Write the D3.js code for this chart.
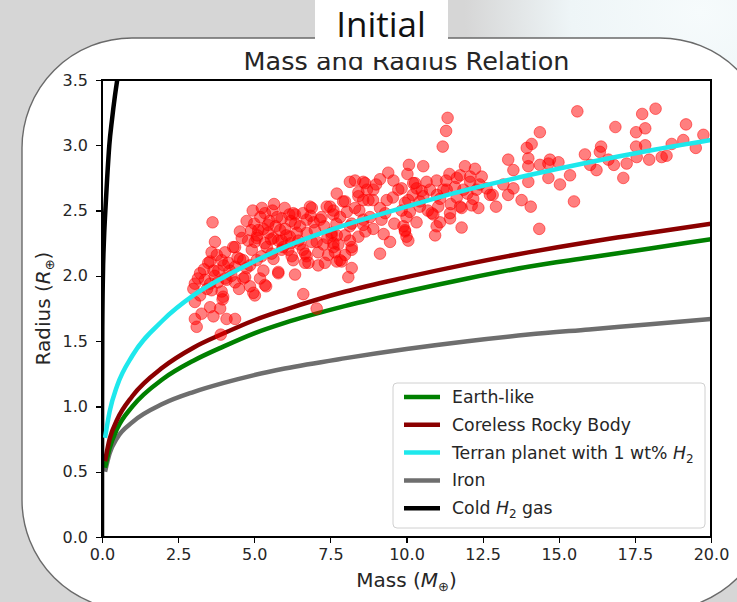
<!DOCTYPE html>
<meta charset="utf-8">
<style>
body {
  margin: 0;
  font-family: "DejaVu Sans", sans-serif;
}
.axis text {
  font: 16px "DejaVu Sans", sans-serif;
  fill: #262626;
}
.axis path,
.axis line {
  fill: none;
  stroke: #000;
  stroke-width: 1.2px;
  shape-rendering: crispEdges;
}
.dot {
  fill: rgba(255, 0, 0, 0.5);
  stroke: rgba(255, 0, 0, 0.5);
  stroke-width: 1px;
}
.curve {
  fill: none;
  stroke-width: 4.5px;
}
</style>
<svg width="737" height="602"></svg>
<script src="https://cdn.jsdelivr.net/npm/d3@7"></script>
<script>

// curve samples (mass in M_earth, radius in R_earth)
var curveMass = [0.1, 0.25, 0.5, 1, 2, 3, 4, 5, 6, 8, 10, 12, 14, 16, 18, 20];
var earthR    = [0.53, 0.68, 0.83, 1.00, 1.21, 1.35, 1.46, 1.56, 1.64, 1.77, 1.88, 1.98, 2.07, 2.14, 2.21, 2.28];
var corelessR = [0.58, 0.75, 0.90, 1.08, 1.30, 1.45, 1.56, 1.66, 1.74, 1.88, 1.99, 2.09, 2.18, 2.26, 2.33, 2.40];
var terranR   = [0.76, 0.96, 1.16, 1.39, 1.66, 1.85, 1.99, 2.11, 2.22, 2.39, 2.53, 2.66, 2.77, 2.87, 2.96, 3.04];
var ironR     = [0.50, 0.64, 0.76, 0.88, 1.02, 1.11, 1.18, 1.24, 1.29, 1.37, 1.44, 1.50, 1.55, 1.59, 1.63, 1.67];
var gasMass   = [0, 0.002, 0.01, 0.03, 0.06, 0.11, 0.17, 0.24, 0.33, 0.42, 0.5, 0.55];
var gasR      = [0, 1.0, 1.6, 2.0, 2.25, 2.5, 2.75, 3.0, 3.2, 3.37, 3.5, 3.58];

var seriesNames = ["Earth-like", "Coreless Rocky Body", "Terran planet with 1 wt% H2", "Iron", "Cold H2 gas"];
var seriesColors = ["#008000", "#8b0000", "#1ee8ec", "#6e6e6e", "#000000"];

// observed planets
var planetMass = [
  15.61, 18.18, 17.74, 19.18, 16.86, 17.84, 17.54, 14.38, 19.75, 14.11, 13.95, 16.39, 17.54, 17.84, 18.71, 19.09, 19.50,
  13.34, 14.0, 14.71, 14.99, 15.86, 16.35, 16.63, 17.23, 17.56, 17.97, 18.38, 18.54, 13.51, 14.0, 14.38, 14.66, 16.03,
  16.24, 16.81, 15.37, 14.66, 14.0, 15.04, 17.12, 13.18, 13.51, 13.34, 12.83, 12.94, 13.78, 14.08, 15.5, 14.36,
  11.35, 11.3,
  11.19, 10.08, 10.55, 11.92, 12.25, 9.40, 10.03, 11.41, 11.76, 12.47, 8.14, 8.58, 9.13, 9.57, 10.22, 10.99, 10.66, 12.09,
  7.71, 8.42, 8.91, 9.73, 10.33, 10.77, 11.32, 11.87, 12.63, 7.92, 8.58, 9.35, 10.06, 10.55, 11.10, 11.65, 12.19,
  12.36, 11.81, 11.04, 10.44, 9.84, 9.13, 8.31, 7.60, 7.82, 8.58, 9.18, 10.0, 10.83, 11.43, 11.43, 8.14, 8.91, 9.9,
  10.33, 11.81, 9.95, 7.71, 8.14, 9.46, 10.06, 10.94, 7.6, 8.2, 9.13, 7.87, 8.2, 8.09,
  10.28, 11.65, 12.09, 9.84, 11.21, 11.59, 12.3, 12.74, 9.95, 10.44, 11.76, 12.14, 10.11, 10.88, 11.1, 10.99, 9.95, 10.0,
  5.35, 6.89, 6.34, 5.9, 7.38, 3.63, 4.53, 5.30, 5.85, 6.5, 7.16, 3.71, 4.59, 5.08, 5.63, 6.17, 6.72, 7.54, 4.04, 4.31,
  4.92, 5.41, 5.95, 6.5, 7.05, 7.6, 3.55, 3.93, 4.53, 5.08, 5.63, 6.23, 6.72, 7.43, 7.71, 3.22, 3.66, 4.2, 4.75, 5.30,
  5.79, 6.34, 6.67, 7.1, 3.05, 3.55, 4.09, 4.64, 5.19, 4.86, 5.39, 3.0, 3.22, 3.93, 5.02, 6.61, 3.05, 3.55, 3.96, 3.27,
  3.88, 3.66, 3.05, 4.09, 4.37, 3.11, 7.05, 3.9,
  5.13, 5.46, 5.02, 5.35, 5.79, 4.37, 3.77, 3.49, 3.38, 3.82, 4.15, 4.37, 4.64, 4.86, 5.24, 5.57, 5.9, 5.79, 5.35, 4.97,
  3.98, 4.04, 4.37, 4.7, 3.6,
  8.31, 8.64, 7.98, 8.42, 8.75, 6.83, 6.28, 7.49, 7.21, 7.6, 8.04, 6.72, 6.34, 6.01, 8.2, 8.58, 6.99, 7.54, 7.98, 8.42,
  5.9, 6.45, 6.89, 7.27, 7.76, 8.2, 6.12, 6.67, 7.98, 6.28, 7.82, 6.78, 7.32,
  5.0, 5.2, 5.5, 5.7, 5.1, 5.6, 4.8, 6.0, 6.2, 6.6,
  4.9, 5.25, 5.45, 5.75, 6.05, 5.55, 6.15, 4.75, 4.95, 5.65,
  3.35, 3.7, 4.0, 4.25, 4.45, 3.45, 3.8, 4.5, 3.15, 3.6,
  6.4, 6.95, 7.3, 7.7, 6.6, 7.1, 7.65, 6.2, 7.4, 6.85,
  8.45, 8.8, 9.3, 9.55, 8.9, 9.0, 8.7, 9.6, 9.25, 8.65,
  10.5, 11.0, 11.45, 12.0, 10.7, 11.3, 12.4, 10.2
];
var planetRadius = [
  3.26, 3.28, 3.24, 3.16, 3.14, 3.13, 3.10, 3.10, 3.08, 3.01, 2.98, 2.99, 2.99, 3.00, 3.01, 3.04, 2.98,
  2.89, 2.90, 2.89, 2.87, 2.93, 2.95, 2.89, 2.86, 2.91, 2.89, 2.91, 2.92, 2.81, 2.84, 2.85, 2.86, 2.85,
  2.81, 2.85, 2.77, 2.75, 2.72, 2.70, 2.75, 2.70, 2.67, 2.62, 2.62, 2.53, 2.58, 2.53, 2.57, 2.36,
  3.21, 3.11,
  2.99, 2.85, 2.84, 2.84, 2.82, 2.79, 2.78, 2.78, 2.77, 2.76, 2.72, 2.72, 2.74, 2.73, 2.71, 2.73, 2.72, 2.72,
  2.63, 2.64, 2.66, 2.66, 2.67, 2.66, 2.66, 2.66, 2.67, 2.57, 2.58, 2.58, 2.58, 2.61, 2.59, 2.60, 2.59,
  2.52, 2.52, 2.53, 2.53, 2.50, 2.52, 2.52, 2.50, 2.45, 2.43, 2.43, 2.45, 2.48, 2.44, 2.48, 2.38, 2.36, 2.38,
  2.41, 2.37, 2.34, 2.31, 2.27, 2.26, 2.27, 2.31, 2.22, 2.20, 2.17, 2.11, 2.06, 1.99,
  2.71, 2.75, 2.76, 2.67, 2.66, 2.68, 2.66, 2.62, 2.56, 2.57, 2.53, 2.54, 2.49, 2.47, 2.41, 2.38, 2.35, 2.30,
  2.48, 2.52, 2.47, 2.44, 2.53, 2.41, 2.34, 2.36, 2.35, 2.38, 2.43, 2.26, 2.29, 2.29, 2.29, 2.30, 2.33, 2.31, 2.18, 2.22,
  2.20, 2.22, 2.22, 2.24, 2.26, 2.25, 2.11, 2.12, 2.13, 2.12, 2.13, 2.15, 2.15, 2.16, 2.11, 2.02, 2.04, 2.04, 2.06, 2.04,
  2.02, 2.01, 2.10, 2.08, 1.94, 1.94, 1.97, 1.98, 1.98, 1.92, 1.92, 1.90, 1.85, 1.88, 1.85, 1.86, 1.80, 1.76, 1.82, 1.71,
  1.75, 1.69, 1.67, 1.67, 1.67, 1.61, 1.75, 1.55,
  2.35, 2.33, 2.26, 2.25, 2.27, 2.22, 2.16, 2.10, 1.97, 2.04, 2.10, 2.07, 2.12, 2.08, 2.15, 2.17, 2.20, 2.03, 1.93, 1.87,
  1.84, 1.98, 1.95, 1.99, 1.89,
  2.73, 2.71, 2.57, 2.61, 2.58, 2.53, 2.48, 2.53, 2.45, 2.47, 2.49, 2.43, 2.40, 2.36, 2.40, 2.39, 2.35, 2.33, 2.31, 2.30,
  2.27, 2.27, 2.26, 2.24, 2.24, 2.22, 2.20, 2.17, 2.16, 2.12, 2.12, 2.10, 2.10,
  2.40, 2.45, 2.42, 2.38, 2.31, 2.50, 2.27, 2.52, 2.42, 2.48,
  2.35, 2.52, 2.39, 2.45, 2.31, 2.28, 2.47, 2.42, 2.50, 2.55,
  2.05, 2.00, 2.08, 2.00, 2.14, 1.90, 1.95, 1.90, 1.98, 2.18,
  2.33, 2.41, 2.38, 2.40, 2.20, 2.18, 2.18, 2.25, 2.29, 2.46,
  2.50, 2.45, 2.48, 2.60, 2.58, 2.70, 2.66, 2.40, 2.32, 2.34,
  2.65, 2.62, 2.55, 2.63, 2.50, 2.73, 2.70, 2.62
];

var xTicks = [0, 2.5, 5, 7.5, 10, 12.5, 15, 17.5, 20];
var yTicks = [0, 0.5, 1, 1.5, 2, 2.5, 3, 3.5];

var svg = d3.select("svg"),
    margin = {top: 80, right: 26, bottom: 65, left: 102},
    width = +svg.attr("width") - margin.left - margin.right,
    height = +svg.attr("height") - margin.top - margin.bottom;

// slide background
var defs = svg.append("defs");
var glow = defs.append("radialGradient").attr("id", "glow")
    .attr("cx", "0.95").attr("cy", "0.02").attr("r", "0.32");
glow.append("stop").attr("offset", "0").attr("stop-color", "#f6fbfc");
glow.append("stop").attr("offset", "0.55").attr("stop-color", "#eef5f7");
glow.append("stop").attr("offset", "1").attr("stop-color", "#d6d6d6");
defs.append("clipPath").attr("id", "plotclip")
  .append("rect").attr("width", width).attr("height", height);

svg.append("rect").attr("width", 737).attr("height", 602).attr("fill", "#d6d6d6");
svg.append("rect").attr("width", 737).attr("height", 602).attr("fill", "url(#glow)");

svg.append("rect")
    .attr("x", 22).attr("y", 38)
    .attr("width", 748).attr("height", 572)
    .attr("rx", 110).attr("ry", 110)
    .attr("fill", "#fff")
    .attr("stroke", "#6a6a6a")
    .attr("stroke-width", 1.4);

var x = d3.scaleLinear().domain([0, 20]).range([0, width]),
    y = d3.scaleLinear().domain([0, 3.5]).range([height, 0]);

// title
svg.append("text")
    .attr("x", margin.left + width / 2)
    .attr("y", 70)
    .attr("text-anchor", "middle")
    .style("font-size", "25.5px")
    .style("fill", "#262626")
    .text("Mass and Radius Relation");

// "Initial" tab over the top
svg.append("rect").attr("x", 315).attr("y", 0).attr("width", 133).attr("height", 57).attr("fill", "#fff");
svg.append("text")
    .attr("x", 381).attr("y", 37)
    .attr("text-anchor", "middle")
    .style("font-family", "'Open Sans', sans-serif")
    .style("font-size", "35px")
    .style("fill", "#111")
    .text("Initial");

var g = svg.append("g")
    .attr("transform", "translate(" + margin.left + "," + margin.top + ")");

var plot = g.append("g").attr("clip-path", "url(#plotclip)");

var line = d3.line()
    .x(function(d) { return x(d[0]); })
    .y(function(d) { return y(d[1]); })
    .curve(d3.curveMonotoneX);

var curves = [earthR, corelessR, terranR, ironR];

// iron and rocky curves under the dots, cyan drawn last
var drawOrder = [3, 0, 1];
drawOrder.forEach(function(i) {
  plot.append("path")
      .attr("class", "curve")
      .attr("stroke", seriesColors[i])
      .attr("d", line(curveMass.map(function(m, j) { return [m, curves[i][j]]; })));
});

plot.append("path")
    .attr("class", "curve")
    .attr("stroke", seriesColors[4])
    .attr("d", line(gasMass.map(function(m, j) { return [m, gasR[j]]; })));

plot.selectAll(".dot")
    .data(planetMass.map(function(m, i) { return [m, planetRadius[i]]; }))
  .enter().append("circle")
    .attr("class", "dot")
    .attr("cx", function(d) { return x(d[0]); })
    .attr("cy", function(d) { return y(d[1]); })
    .attr("r", 5.8);

plot.append("path")
    .attr("class", "curve")
    .attr("stroke", seriesColors[2])
    .attr("d", line(curveMass.map(function(m, j) { return [m, terranR[j]]; })));

// axes
g.append("g")
    .attr("class", "axis x")
    .attr("transform", "translate(0," + height + ")")
    .call(d3.axisBottom(x).tickValues(xTicks).tickFormat(d3.format(".1f")).tickSizeOuter(0).tickSize(6).tickPadding(6));
g.append("g")
    .attr("class", "axis y")
    .call(d3.axisLeft(y).tickValues(yTicks).tickFormat(d3.format(".1f")).tickSizeOuter(0).tickSize(6).tickPadding(8));

g.append("rect")
    .attr("width", width).attr("height", height)
    .attr("fill", "none").attr("stroke", "#000").attr("stroke-width", 1.2)
    .style("shape-rendering", "crispEdges");

// axis labels
var xl = g.append("text")
    .attr("x", width / 2).attr("y", height + 50)
    .attr("text-anchor", "middle")
    .style("font-size", "20px").style("fill", "#262626");
xl.append("tspan").text("Mass (");
xl.append("tspan").style("font-style", "italic").text("M");
xl.append("tspan").attr("dy", 4).style("font-size", "13px").text("\u2295");
xl.append("tspan").attr("dy", -4).text(")");

var yl = g.append("text")
    .attr("transform", "translate(-52," + (height / 2) + ") rotate(-90)")
    .attr("text-anchor", "middle")
    .style("font-size", "20px").style("fill", "#262626");
yl.append("tspan").text("Radius (");
yl.append("tspan").style("font-style", "italic").text("R");
yl.append("tspan").attr("dy", 4).style("font-size", "13px").text("\u2295");
yl.append("tspan").attr("dy", -4).text(")");

// legend
var legend = g.append("g").attr("transform", "translate(" + (393 - margin.left) + "," + (383 - margin.top) + ")");
legend.append("rect")
    .attr("width", 312).attr("height", 145).attr("rx", 4)
    .attr("fill", "rgba(255,255,255,0.85)").attr("stroke", "#d0d0d0");

var rows = legend.selectAll(".row")
    .data(seriesNames)
  .enter().append("g")
    .attr("class", "row")
    .attr("transform", function(d, i) { return "translate(0," + (14 + i * 27.8) + ")"; });

rows.append("line")
    .attr("x1", 11).attr("x2", 47)
    .attr("stroke", function(d, i) { return seriesColors[i]; })
    .attr("stroke-width", 4.5);

rows.append("text")
    .attr("x", 59).attr("dy", "0.35em")
    .style("font-size", "17.3px").style("fill", "#262626")
    .each(function(d) {
      var t = d3.select(this);
      var k = d.indexOf("H2");
      if (k < 0) { t.text(d); return; }
      t.append("tspan").text(d.slice(0, k));
      t.append("tspan").style("font-style", "italic").text("H");
      t.append("tspan").attr("dy", 4).style("font-size", "12px").text("2");
      t.append("tspan").attr("dy", -4).text(d.slice(k + 2));
    });

</script>
